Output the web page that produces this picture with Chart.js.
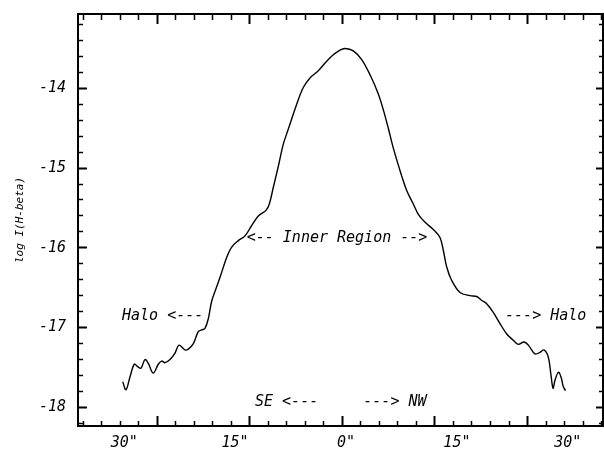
<!DOCTYPE html>
<html><head><meta charset="utf-8">
<script src="https://cdn.jsdelivr.net/npm/chart.js@4"></script>
<style>html,body{margin:0;padding:0;background:#fff}canvas{display:block}</style>
</head><body>
<canvas id="c" width="604" height="450"></canvas>
<script>
// ---- data (offset in arcsec, SE negative / NW positive) ----
const offsetArcsec = [
  -30.20,-29.76,-29.22,-28.64,-28.18,-27.73,-27.19,-26.74,-26.07,-25.39,
  -24.93,-24.48,-23.81,-23.13,-22.59,-21.78,-21.33,-20.65,-19.98,-19.52,
  -19.07,-18.63,-18.17,-17.58,-17.04,-16.14,-15.46,-14.57,-13.66,-12.76,
  -11.86,-10.82,-10.37,-9.83,-9.16,-8.48,-7.80,-6.67,-5.78,-4.87,
  -3.75,-2.61,-1.72,-0.81,-0.14,0.99,2.12,3.25,4.37,5.05,
  5.72,6.40,7.30,8.21,9.10,9.78,10.69,11.81,12.71,13.16,
  13.62,14.30,15.42,16.77,17.68,18.36,19.03,19.92,20.83,21.74,
  22.63,23.31,24.08,24.66,25.56,26.24,26.78,27.36,27.73,28.00,
  28.27,28.72,29.08,29.39,29.69
];
const logIHbeta = [
  -17.68,-17.78,-17.62,-17.46,-17.49,-17.51,-17.40,-17.45,-17.57,-17.46,
  -17.42,-17.44,-17.40,-17.32,-17.22,-17.28,-17.27,-17.20,-17.05,-17.03,
  -17.01,-16.89,-16.67,-16.51,-16.37,-16.12,-15.99,-15.91,-15.85,-15.72,
  -15.60,-15.53,-15.45,-15.24,-14.98,-14.70,-14.51,-14.20,-13.99,-13.87,
  -13.78,-13.66,-13.58,-13.52,-13.50,-13.53,-13.64,-13.83,-14.07,-14.27,
  -14.50,-14.75,-15.03,-15.28,-15.45,-15.58,-15.68,-15.77,-15.87,-16.03,
  -16.24,-16.41,-16.56,-16.60,-16.61,-16.66,-16.70,-16.81,-16.95,-17.08,
  -17.16,-17.21,-17.18,-17.22,-17.33,-17.31,-17.28,-17.37,-17.60,-17.76,
  -17.66,-17.56,-17.62,-17.74,-17.79
];
const xLabelTicks = [-30, -15, 0, 15, 30];
const yLabelTicks = [-18, -17, -16, -15, -14];
const yTitle = 'log I(H-beta)';
const annotations = [
  {text: 'Halo <---', x: -30.30, y: -16.86},
  {text: '<-- Inner Region -->', x: -13.43, y: -15.875},
  {text: '---> Halo', x: 21.51, y: -16.85},
  {text: 'SE <---', x: -12.31, y: -17.93},
  {text: '---> NW', x: 2.34, y: -17.93}
];

// ---- axis ranges & tick-mark grid ----
const X_MIN = -36.25, X_MAX = 34.76, Y_MIN = -18.234, Y_MAX = -13.068;
const X_TICK_ORIGIN = -0.49, X_MINOR_STEP = 2.504;
const xMinor = [], xMajor = [];
for (let k = -16; k <= 16; k++) {
  const v = X_TICK_ORIGIN + k * X_MINOR_STEP;
  if (v > X_MIN && v < X_MAX) (k % 5 === 0 ? xMajor : xMinor).push(v);
}
const yMinor = [], yMajor = [];
for (let k = -91; k <= -66; k++) {
  const v = k / 5;
  if (v > Y_MIN && v < Y_MAX) (k % 5 === 0 ? yMajor : yMinor).push(v);
}

const FONT = "'DejaVu Sans Mono', 'Liberation Mono', monospace";
Chart.defaults.font.family = FONT;
Chart.defaults.font.style = 'italic';
Chart.defaults.font.size = 15;
Chart.defaults.color = '#000';

function tickScale(axis, pos, values, len, width, border) {
  return {
    type: 'linear', axis, position: pos,
    min: axis === 'x' ? X_MIN : Y_MIN, max: axis === 'x' ? X_MAX : Y_MAX,
    afterBuildTicks: s => { s.ticks = values.map(v => ({value: v})); },
    ticks: {display: false},
    grid: {display: true, drawOnChartArea: false, drawTicks: true, tickLength: len, tickWidth: width, tickColor: '#000'},
    border: border ? {display: true, color: '#000', width: 2} : {display: false}
  };
}

const annotationPlugin = {
  id: 'annot',
  afterDatasetsDraw(chart) {
    const {ctx, scales: {x, y}} = chart;
    ctx.save();
    ctx.font = 'italic 15px ' + FONT;
    ctx.fillStyle = '#000';
    ctx.textAlign = 'left';
    ctx.textBaseline = 'middle';
    annotations.forEach(a => ctx.fillText(a.text, x.getPixelForValue(a.x), y.getPixelForValue(a.y)));
    ctx.restore();
  }
};

new Chart(document.getElementById('c'), {
  type: 'line',
  data: {
    datasets: [{
      data: offsetArcsec.map((v, i) => ({x: v, y: logIHbeta[i]})),
      borderColor: '#000', borderWidth: 1.4, pointRadius: 0, tension: 0.35, fill: false
    }]
  },
  options: {
    responsive: false, animation: false, devicePixelRatio: 1,
    layout: {padding: {top: 14, right: 1, left: 0, bottom: 0}},
    plugins: {legend: {display: false}, tooltip: {enabled: false}},
    scales: {
      x: {
        type: 'linear', position: 'bottom', min: X_MIN, max: X_MAX,
        afterBuildTicks: s => { s.ticks = xLabelTicks.map(v => ({value: v})); },
        afterFit: s => { s.height = 24; s.paddingLeft = 0; s.paddingRight = 0; },
        ticks: {padding: 8, maxRotation: 0, autoSkip: false, callback: v => Math.abs(v) + '"'},
        grid: {display: false, drawTicks: false},
        border: {display: true, color: '#000', width: 2}
      },
      y: {
        type: 'linear', position: 'left', min: Y_MIN, max: Y_MAX,
        afterBuildTicks: s => { s.ticks = yLabelTicks.map(v => ({value: v})); },
        afterFit: s => { s.width = 78; s.paddingTop = 0; s.paddingBottom = 0; },
        ticks: {padding: 12, callback: v => String(v)},
        grid: {display: false, drawTicks: false},
        border: {display: true, color: '#000', width: 2},
        title: {display: true, text: yTitle, font: {size: 11, style: 'italic', family: FONT}, padding: {top: 14, bottom: 0}}
      },
      xBotMinor: tickScale('x', {y: Y_MIN}, xMinor, -5, 1.5, false),
      xBotMajor: tickScale('x', {y: Y_MIN}, xMajor, -10, 2, false),
      xTopMinor: tickScale('x', {y: Y_MAX}, xMinor, 5, 1.5, true),
      xTopMajor: tickScale('x', {y: Y_MAX}, xMajor, 10, 2, false),
      yLeftMinor: tickScale('y', {x: X_MIN}, yMinor, -5, 1.5, false),
      yLeftMajor: tickScale('y', {x: X_MIN}, yMajor, -9, 2, false),
      yRightMinor: tickScale('y', {x: X_MAX}, yMinor, 3, 1.5, true),
      yRightMajor: tickScale('y', {x: X_MAX}, yMajor, 7, 2, false)
    }
  },
  plugins: [annotationPlugin]
});
</script>
</body></html>
